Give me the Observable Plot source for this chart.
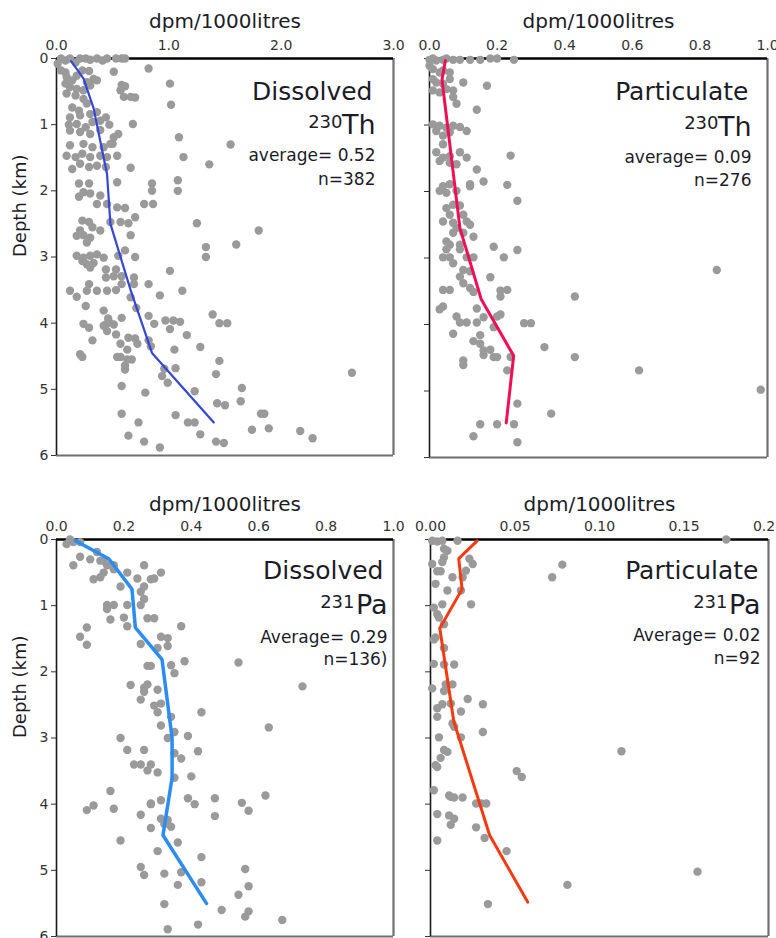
<!DOCTYPE html>
<html><head><meta charset="utf-8">
<script src="https://cdn.jsdelivr.net/npm/d3@7"></script>
<script src="https://cdn.jsdelivr.net/npm/@observablehq/plot@0.6"></script>
<style>
body{margin:0;background:#fff;}
#root{position:relative;width:776px;height:938px;overflow:hidden;background:#fff;font-family:"DejaVu Sans",sans-serif;}
#root svg{position:absolute;}
</style></head><body><div id="root"></div>
<script>
// ---- data: [value (dpm/1000 litres), depth (km)] ----
const unitLabel = "dpm/1000litres";
const depthLabel = "Depth (km)";
const depthTicks = [0, 1, 2, 3, 4, 5, 6];

const thDissolvedTicks = [0, 1, 2, 3];
const thParticulateTicks = [0, 0.2, 0.4, 0.6, 0.8, 1.0];
const paDissolvedTicks = [0, 0.2, 0.4, 0.6, 0.8, 1.0];
const paParticulateTicks = [0, 0.05, 0.10, 0.15, 0.20];

const thDissolvedPoints = [
[0.01,0.08],[0.04,0.0],[0.08,0.03],[0.12,0.0],[0.17,0.06],[0.21,0.0],[0.26,0.0],[0.30,0.02],[0.36,0.0],[0.41,0.03],[0.45,0.0],[0.53,0.0],[0.58,0.0],[0.61,0.0],[0.82,0.15],
[0.04,0.18],[0.08,0.21],[0.09,0.28],[0.14,0.33],[0.18,0.26],[0.23,0.18],[0.29,0.19],[0.33,0.31],[0.36,0.33],[0.27,0.36],[0.08,0.38],[0.12,0.43],[0.18,0.46],[0.24,0.48],[0.30,0.41],
[0.09,0.53],[0.17,0.56],[0.24,0.61],[0.51,0.20],[0.58,0.40],[0.61,0.42],[0.57,0.48],[0.60,0.58],[0.66,0.58],[0.70,0.59],[1.01,0.38],[1.02,0.70],[0.14,0.74],[0.20,0.79],[0.27,0.68],
[0.12,0.89],[0.21,0.86],[0.30,0.84],[0.36,0.81],[0.11,1.0],[0.18,0.99],[0.26,1.04],[0.32,0.96],[0.39,0.94],[0.44,0.89],[0.47,1.0],[0.68,0.99],[0.12,1.09],[0.21,1.11],[0.30,1.14],
[0.39,1.08],[0.51,1.19],[0.50,1.29],[0.55,1.14],[0.12,1.31],[0.24,1.29],[0.32,1.34],[0.42,1.34],[0.48,1.29],[0.09,1.47],[0.17,1.49],[0.23,1.44],[0.30,1.49],[0.39,1.47],[0.45,1.49],
[0.54,1.47],[0.14,1.67],[0.21,1.59],[0.29,1.64],[0.36,1.62],[0.44,1.64],[0.66,1.65],[1.09,1.19],[1.13,1.49],[1.36,1.60],[1.55,1.30],[0.20,1.89],[0.29,1.89],[0.24,2.02],[0.20,2.09],
[0.30,2.04],[0.39,2.07],[0.36,2.20],[0.45,2.20],[0.54,1.87],[0.54,2.25],[0.61,2.26],[0.85,1.89],[0.85,2.0],[1.08,1.84],[1.08,2.0],[0.78,2.20],[0.86,2.20],[0.23,2.45],[0.29,2.47],
[0.32,2.55],[0.21,2.60],[0.39,2.60],[0.48,2.47],[0.57,2.47],[0.64,2.49],[0.70,2.40],[1.25,2.49],[1.80,2.60],[0.66,2.67],[0.24,2.67],[0.30,2.71],
[0.18,2.68],[0.27,2.78],[1.33,2.85],[1.60,2.81],[0.18,2.98],[0.24,3.01],[0.30,2.98],[0.36,2.96],[0.42,3.01],[0.27,3.11],[0.33,3.09],[0.55,2.98],[0.61,2.90],[0.70,3.0],[1.33,3.0],
[0.23,3.06],[0.30,3.16],[0.44,3.19],[0.53,3.19],[0.44,3.31],[0.51,3.29],[0.58,3.29],[0.69,3.31],[0.69,3.41],[1.01,3.21],[0.29,3.41],[0.36,3.51],[0.45,3.51],[0.53,3.50],[0.58,3.41],
[0.82,3.41],[0.12,3.51],[0.27,3.51],[1.12,3.51],[0.18,3.60],[0.26,3.74],[0.66,3.61],[0.92,3.58],[0.71,3.77],[0.42,3.81],[0.46,3.93],[0.44,4.02],[0.47,3.99],[0.51,4.02],[0.42,4.04],
[0.45,4.12],[0.53,4.17],[0.24,4.01],[0.29,4.07],[0.32,4.26],[0.58,3.92],[1.39,3.87],[1.45,4.0],[1.52,4.0],[0.82,3.89],[0.97,3.96],[1.04,3.96],[1.10,3.98],[0.87,4.01],[1.01,4.09],
[1.16,4.18],[0.64,4.22],[0.70,4.23],[0.57,4.31],[0.72,4.31],[0.82,4.26],[0.84,4.35],[0.63,4.40],[1.28,4.36],[1.05,4.40],[0.21,4.47],[0.23,4.51],[0.54,4.51],[0.57,4.51],[1.45,4.57],
[0.63,4.55],[0.67,4.55],[0.61,4.64],[0.61,4.70],[0.96,4.69],[1.06,4.68],[1.42,4.77],[0.94,4.80],[0.99,4.90],[2.63,4.75],[0.58,4.95],[0.79,5.05],[1.23,5.03],[1.65,4.98],[1.64,5.18],
[1.43,5.21],[1.50,5.24],[0.58,5.37],[1.06,5.39],[1.17,5.50],[1.23,5.50],[1.82,5.37],[1.85,5.37],[0.73,5.50],[0.64,5.70],[0.78,5.79],[1.28,5.68],[1.42,5.79],[1.49,5.81],[1.74,5.61],
[1.89,5.59],[2.17,5.63],[2.28,5.74],[0.92,5.88]
];
const thDissolvedMean = [[0.13,0.04],[0.24,0.3],[0.33,0.75],[0.39,1.25],[0.45,1.75],[0.48,2.5],[0.66,3.5],[0.85,4.45],[1.40,5.5]];

const thParticulatePoints = [
[0.00,0.02],[0.01,0.0],[0.02,0.03],[0.04,0.02],[0.05,0.0],[0.07,0.02],[0.09,0.02],[0.12,0.02],[0.15,0.02],[0.18,0.0],[0.20,0.0],[0.25,0.02],
[0.0,0.11],[0.01,0.16],[0.03,0.21],[0.04,0.18],[0.06,0.21],[0.01,0.31],[0.02,0.36],[0.04,0.38],[0.06,0.31],[0.10,0.36],[0.17,0.41],[0.01,0.48],[0.03,0.51],[0.05,0.46],[0.07,0.48],
[0.07,0.58],[0.08,0.68],[0.14,0.77],[0.01,0.99],[0.03,1.01],[0.05,1.04],[0.07,1.01],[0.09,1.03],[0.11,1.09],[0.02,1.09],[0.04,1.16],[0.06,1.11],[0.04,1.29],[0.02,1.41],[0.04,1.49],
[0.06,1.47],[0.09,1.41],[0.11,1.49],[0.03,1.54],[0.06,1.57],[0.08,1.59],[0.14,1.67],[0.24,1.46],[0.03,1.99],[0.04,1.92],[0.06,1.89],[0.05,2.02],[0.08,1.99],[0.12,1.89],[0.12,1.92],
[0.16,1.85],[0.23,1.90],[0.26,2.14],[0.05,2.25],[0.07,2.20],[0.09,2.21],[0.06,2.35],[0.10,2.35],[0.04,2.45],[0.07,2.47],[0.08,2.55],[0.11,2.45],[0.12,2.50],[0.07,2.62],[0.10,2.62],
[0.13,2.68],[0.05,2.75],[0.06,2.80],[0.09,2.80],[0.05,2.87],[0.09,2.87],[0.19,2.83],[0.22,2.99],[0.26,2.88],[0.04,2.99],[0.06,2.99],[0.11,2.99],[0.13,2.99],[0.07,3.08],[0.10,3.18],
[0.12,3.20],[0.09,3.28],[0.10,3.38],[0.12,3.45],[0.18,3.29],[0.85,3.18],[0.04,3.48],[0.06,3.48],[0.21,3.49],[0.23,3.48],[0.21,3.58],[0.43,3.58],[0.13,3.51],[0.03,3.77],[0.04,3.73],
[0.14,3.76],[0.08,3.88],[0.09,3.97],[0.11,3.97],[0.14,3.97],[0.16,3.89],[0.20,3.88],[0.21,3.85],[0.19,4.04],[0.28,3.98],[0.30,3.98],[0.07,4.14],[0.15,4.16],[0.13,4.25],[0.15,4.29],
[0.16,4.39],[0.16,4.46],[0.18,4.38],[0.19,4.49],[0.20,4.49],[0.24,4.49],[0.34,4.34],[0.43,4.49],[0.10,4.54],[0.10,4.61],[0.23,4.69],[0.62,4.69],[0.98,4.98],[0.26,5.19],[0.36,5.34],
[0.15,5.50],[0.20,5.50],[0.25,5.50],[0.13,5.68],[0.26,5.77]
];
const thParticulateMean = [[0.047,0.03],[0.037,0.32],[0.09,2.55],[0.153,3.62],[0.249,4.47],[0.227,5.48]];

const paDissolvedPoints = [
[0.04,0.0],[0.03,0.07],[0.05,0.04],[0.07,0.04],[0.12,0.19],[0.07,0.26],[0.10,0.30],[0.14,0.32],[0.13,0.32],[0.15,0.39],[0.17,0.39],[0.17,0.45],[0.05,0.39],[0.26,0.39],[0.31,0.50],
[0.21,0.50],[0.14,0.50],[0.11,0.60],[0.13,0.57],[0.24,0.59],[0.28,0.60],[0.29,0.59],[0.19,0.71],[0.26,0.71],[0.25,0.79],[0.26,0.90],[0.21,0.99],[0.15,0.99],[0.17,0.99],[0.25,0.99],
[0.15,1.05],[0.16,1.21],[0.20,1.18],[0.27,1.19],[0.29,1.19],[0.21,1.31],[0.09,1.33],[0.37,1.31],[0.07,1.47],[0.09,1.59],[0.31,1.47],[0.33,1.49],[0.33,1.61],[0.25,1.58],[0.30,1.64],
[0.38,1.84],[0.54,1.86],[0.27,1.91],[0.28,1.91],[0.34,1.90],[0.35,2.02],[0.22,2.20],[0.26,2.24],[0.26,2.30],[0.27,2.19],[0.30,2.27],[0.73,2.22],[0.25,2.42],
[0.29,2.51],[0.31,2.48],[0.30,2.61],[0.43,2.61],[0.34,2.68],[0.31,2.81],[0.35,2.91],[0.33,3.0],[0.39,2.97],[0.63,2.84],[0.19,3.0],[0.21,3.18],[0.26,3.18],[0.35,3.23],[0.42,3.20],
[0.37,3.31],[0.23,3.40],[0.25,3.40],[0.28,3.40],[0.27,3.49],[0.30,3.52],[0.35,3.60],[0.40,3.58],[0.16,3.80],[0.31,3.94],[0.28,3.99],[0.28,4.0],[0.39,3.91],[0.47,3.91],[0.41,4.0],
[0.55,3.98],[0.62,3.87],[0.09,4.09],[0.11,4.02],[0.17,4.07],[0.25,4.16],[0.31,4.22],[0.33,4.24],[0.32,4.30],[0.34,4.34],[0.28,4.36],[0.47,4.18],[0.57,4.10],[0.19,4.55],[0.36,4.58],
[0.30,4.71],[0.43,4.80],[0.25,4.95],[0.26,5.07],[0.32,5.05],[0.37,5.03],[0.43,5.18],[0.56,4.98],[0.36,5.22],[0.57,5.24],[0.54,5.37],[0.32,5.51],[0.49,5.60],[0.57,5.62],[0.56,5.70],
[0.42,5.82],[0.67,5.75],[0.33,5.89]
];
const paDissolvedMean = [[0.056,0.02],[0.155,0.29],[0.224,0.75],[0.234,1.33],[0.313,1.81],[0.343,3.0],[0.343,3.6],[0.316,4.47],[0.445,5.5]];

const paParticulatePoints = [
[0.001,0.02],[0.004,0.03],[0.007,0.02],[0.016,0.02],[0.175,0.0],[0.008,0.14],[0.010,0.17],[0.008,0.27],[0.001,0.37],[0.007,0.34],[0.023,0.29],[0.025,0.37],[0.021,0.47],[0.004,0.48],
[0.006,0.48],[0.013,0.57],[0.019,0.57],[0.003,0.67],[0.010,0.77],[0.018,0.77],[0.078,0.38],[0.072,0.57],[0.002,1.03],[0.007,0.98],[0.024,0.98],[0.004,1.13],[0.005,1.18],[0.008,1.28],
[0.002,1.51],[0.003,1.48],[0.008,1.64],[0.014,1.89],[0.002,1.88],[0.008,1.89],[0.009,2.19],[0.013,2.19],[0.001,2.25],[0.008,2.29],[0.022,2.41],[0.031,2.49],[0.007,2.49],[0.004,2.55],
[0.012,2.48],[0.004,2.68],[0.018,2.60],[0.013,2.78],[0.014,2.83],[0.031,2.91],[0.005,2.99],[0.018,2.99],[0.008,3.18],[0.010,3.21],[0.113,3.20],[0.006,3.30],[0.003,3.41],[0.004,3.44],
[0.051,3.50],[0.054,3.59],[0.002,3.79],[0.011,3.87],[0.012,3.89],[0.014,3.90],[0.019,3.90],[0.027,3.99],[0.030,3.99],[0.033,3.99],[0.004,4.15],[0.011,4.17],[0.014,4.22],[0.012,4.31],
[0.027,4.35],[0.032,4.51],[0.004,4.55],[0.045,4.71],[0.081,5.22],[0.158,5.02],[0.034,5.51]
];
const paParticulateMean = [[0.0276,0.02],[0.0167,0.29],[0.0187,0.75],[0.0055,1.34],[0.0138,2.75],[0.035,4.47],[0.0575,5.48]];

const panelTitles = ["Dissolved", "Particulate", "Dissolved", "Particulate"];
const isotopeMass = ["230", "230", "231", "231"];
const isotopeSymbol = ["Th", "Th", "Pa", "Pa"];
const averageText = ["average= 0.52", "average= 0.09", "Average= 0.29", "Average= 0.02"];
const countText = ["n=382", "n=276", "n=136)", "n=92"];

// ---- layout ----
const panels = [
  {points: thDissolvedPoints, mean: thDissolvedMean, ticks: thDissolvedTicks, fmt: ".1f", xmax: 3,
   left: 0, top: 0, width: 410, height: 470, mL: 56, mR: 17, mT: 58, mB: 15, yLabels: true,
   color: "#3447d6", lw: 2.2, unitDy: -31,
   dx: {title: -21, sym: -18, mass: -51, avg: -18, n: -18}, dy: {title: 41, sym: 75, mass: 69, avg: 102, n: 126}},
  {points: thParticulatePoints, mean: thParticulateMean, ticks: thParticulateTicks, fmt: ".1f", xmax: 1,
   left: 410, top: 0, width: 366, height: 470, mL: 19, mR: 9, mT: 58, mB: 13, yLabels: false,
   color: "#ef0f55", lw: 3, unitDy: -31,
   dx: {title: -19, sym: -16, mass: -49, avg: -16, n: -16}, dy: {title: 41, sym: 77, mass: 70, avg: 104, n: 127}},
  {points: paDissolvedPoints, mean: paDissolvedMean, ticks: paDissolvedTicks, fmt: ".1f", xmax: 1,
   left: 0, top: 480, width: 410, height: 458, mL: 56, mR: 17, mT: 59, mB: 2, yLabels: true,
   color: "#2b8cf2", lw: 3.5, unitDy: -29,
   dx: {title: -10, sym: -6, mass: -39, avg: -6, n: -6}, dy: {title: 39, sym: 74, mass: 68, avg: 103, n: 125}},
  {points: paParticulatePoints, mean: paParticulateMean, ticks: paParticulateTicks, fmt: ".2f", xmax: 0.2,
   left: 410, top: 480, width: 366, height: 458, mL: 20, mR: 8, mT: 59, mB: 2, yLabels: false,
   color: "#f23b10", lw: 3, unitDy: -29,
   dx: {title: -10, sym: -8, mass: -41, avg: -8, n: -8}, dy: {title: 39, sym: 74, mass: 68, avg: 101, n: 124}}
];

const root = document.getElementById("root");
panels.forEach((c, i) => {
  const pts = c.points.map(([v, d]) => ({v, d}));
  const mean = c.mean.map(([v, d]) => ({v, d}));
  const txt = (s, key, size) => Plot.text([s], {frameAnchor: "top-right", textAnchor: "end", lineAnchor: "bottom",
    dx: c.dx[key], dy: c.dy[key], fontSize: size, fill: "#1c1c28"});
  const marks = [
    Plot.ruleX([c.xmax], {stroke: "#6f6f6f", strokeWidth: 2.2}),
    Plot.ruleY([6], {stroke: "#6f6f6f", strokeWidth: 2.2}),
    Plot.ruleX([0], {stroke: "#1a1a1a", strokeWidth: 1.6}),
    Plot.ruleY([0], {stroke: "#000", strokeWidth: 2.6}),
    Plot.axisX({anchor: "top", ticks: c.ticks, tickFormat: d3.format(c.fmt), tickSize: 0, tickPadding: 9, label: null}),
    Plot.axisY({anchor: "left", ticks: depthTicks, tickSize: 5, tickPadding: 3,
      tickFormat: c.yLabels ? (d => String(d)) : (() => ""), label: null}),
    Plot.text([unitLabel], {frameAnchor: "top", lineAnchor: "bottom", dy: c.unitDy, fontSize: 20, fill: "#1c1c28"}),
    Plot.dot(pts, {x: "v", y: "d", r: 4.2, fill: "#9a9a9a"}),
    Plot.line(mean, {x: "v", y: "d", stroke: c.color, strokeWidth: c.lw}),
    txt(panelTitles[i], "title", 25),
    txt(isotopeSymbol[i], "sym", 27),
    txt(isotopeMass[i], "mass", 18),
    txt(averageText[i], "avg", 17),
    txt(countText[i], "n", 17)
  ];
  if (c.yLabels) marks.push(Plot.text([depthLabel], {frameAnchor: "left", rotate: -90, dx: -36, fontSize: 18, fill: "#1c1c28"}));
  const svg = Plot.plot({
    width: c.width, height: c.height,
    marginLeft: c.mL, marginRight: c.mR, marginTop: c.mT, marginBottom: c.mB,
    style: {fontFamily: "DejaVu Sans", fontSize: "14px", color: "#333", background: "transparent", overflow: "visible", maxWidth: "none"},
    x: {domain: [0, c.xmax]},
    y: {domain: [0, 6], reverse: true},
    marks
  });
  svg.style.left = c.left + "px";
  svg.style.top = c.top + "px";
  root.appendChild(svg);
});
</script></body></html>
